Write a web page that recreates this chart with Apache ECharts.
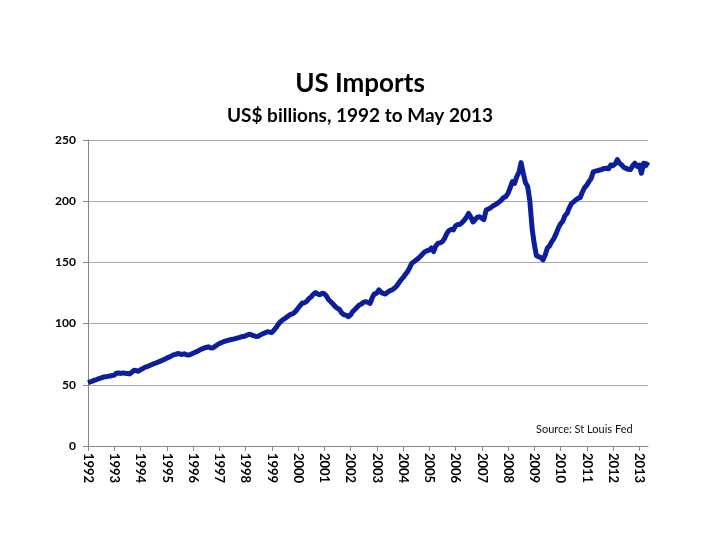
<!DOCTYPE html>
<html>
<head>
<meta charset="utf-8">
<script src="https://cdn.jsdelivr.net/npm/echarts@6/dist/echarts.min.js"></script>
<style>html,body{margin:0;padding:0;background:#fff;}#c{width:720px;height:540px;}</style>
</head>
<body>
<div id="c"></div>
<script>
var years = ['1992','1993','1994','1995','1996','1997','1998','1999','2000','2001','2002','2003','2004','2005','2006','2007','2008','2009','2010','2011','2012','2013'];
var y1992 = [51.8, 52.4, 53.0, 53.8, 54.3, 55.0, 55.6, 56.3, 56.5, 56.9, 57.2, 57.6];
var y1993 = [57.9, 59.5, 59.6, 59.3, 59.7, 59.4, 59.2, 58.9, 60.2, 61.8, 61.6, 61.0];
var y1994 = [62.3, 63.2, 64.3, 64.9, 65.6, 66.4, 67.2, 67.8, 68.5, 69.3, 70.0, 70.8];
var y1995 = [71.8, 72.6, 73.4, 74.4, 74.9, 75.6, 75.2, 74.8, 75.3, 74.6, 74.3, 74.9];
var y1996 = [75.8, 76.6, 77.3, 78.4, 79.2, 79.9, 80.5, 81.0, 80.2, 80.0, 81.3, 82.6];
var y1997 = [83.6, 84.5, 85.2, 85.8, 86.3, 86.8, 87.2, 87.5, 88.1, 88.6, 89.2, 89.4];
var y1998 = [90.0, 90.8, 91.3, 90.6, 89.9, 89.4, 89.8, 90.9, 91.8, 92.6, 93.4, 93.0];
var y1999 = [92.6, 94.5, 96.8, 99.5, 101.5, 103.0, 104.2, 105.5, 106.8, 107.8, 108.4, 110.2];
var y2000 = [112.5, 114.8, 116.8, 117.0, 118.2, 120.5, 121.8, 124.0, 125.3, 124.2, 123.5, 124.8];
var y2001 = [124.4, 122.5, 119.5, 117.8, 116.0, 114.0, 112.5, 111.5, 108.6, 107.2, 106.9, 105.7];
var y2002 = [107.0, 109.8, 111.5, 113.4, 115.2, 116.0, 117.5, 117.9, 117.4, 116.5, 121.5, 124.5];
var y2003 = [124.8, 127.5, 125.5, 124.7, 124.2, 125.8, 126.9, 127.5, 128.8, 130.5, 133.0, 135.5];
var y2004 = [137.5, 140.0, 142.2, 145.5, 149.3, 150.5, 152.0, 153.3, 155.0, 157.0, 158.7, 159.5];
var y2005 = [160.0, 161.8, 158.9, 163.5, 165.6, 166.0, 167.0, 169.5, 173.5, 176.0, 177.0, 176.5];
var y2006 = [179.8, 181.0, 181.0, 182.5, 184.6, 186.8, 190.0, 187.0, 183.0, 185.0, 187.0, 187.3];
var y2007 = [186.0, 185.0, 192.8, 193.5, 194.5, 196.0, 196.9, 198.0, 199.5, 201.0, 203.0, 203.7];
var y2008 = [206.4, 211.0, 216.0, 214.5, 220.0, 223.5, 231.5, 222.8, 215.0, 212.0, 200.0, 178.0];
var y2009 = [165.0, 155.5, 154.7, 154.0, 152.0, 156.0, 161.8, 163.5, 167.0, 169.5, 173.5, 178.0];
var y2010 = [181.5, 183.5, 188.0, 190.0, 194.5, 198.0, 199.5, 201.0, 202.4, 203.0, 207.5, 211.0];
var y2011 = [213.0, 216.0, 218.5, 224.0, 224.5, 225.0, 225.5, 226.0, 226.8, 227.0, 226.5, 229.6];
var y2012 = [229.0, 230.5, 234.0, 231.0, 229.6, 227.5, 226.8, 226.0, 225.8, 229.0, 231.0, 228.5];
var y2013 = [229.5, 222.8, 231.0, 229.0, 232.0];

var yearly = [y1992,y1993,y1994,y1995,y1996,y1997,y1998,y1999,y2000,y2001,y2002,y2003,y2004,y2005,y2006,y2007,y2008,y2009,y2010,y2011,y2012,y2013];
var categories = [];
var values = [];
yearly.forEach(function(arr, i){
  arr.forEach(function(v, m){
    categories.push(years[i] + '-' + (m < 9 ? '0' : '') + (m + 1));
    values.push(v);
  });
});

var chart = echarts.init(document.getElementById('c'));
var isYearStart = function(idx){ return idx % 12 === 0; };
chart.setOption({
  backgroundColor: '#ffffff',
  animation: false,
  title: [
    {text: 'US Imports', left: 'center', top: 66, textStyle: {fontFamily: 'Lato', fontSize: 26, fontWeight: 'bold', color: '#000'}},
    {text: 'US$ billions, 1992 to May 2013', left: 'center', top: 101, textStyle: {fontFamily: 'Lato', fontSize: 19, fontWeight: 'bold', color: '#000'}}
  ],
  grid: {left: 88, right: 72, top: 140, bottom: 94},
  xAxis: {
    type: 'category',
    data: categories,
    boundaryGap: false,
    axisLine: {lineStyle: {color: '#888', width: 1}},
    axisTick: {interval: function(idx){ return isYearStart(idx); }, length: 5, lineStyle: {color: '#888'}},
    axisLabel: {
      interval: function(idx){ return isYearStart(idx); },
      rotate: -90,
      margin: 7,
      formatter: function(v){ return v.slice(0, 4); },
      fontFamily: 'Lato', fontSize: 13, fontWeight: 'bold', color: '#000'
    },
    splitLine: {show: false}
  },
  yAxis: {
    type: 'value',
    min: 0, max: 250, interval: 50,
    axisLine: {show: true, lineStyle: {color: '#888', width: 1}},
    axisTick: {show: true, length: 5, lineStyle: {color: '#888'}},
    axisLabel: {fontFamily: 'Lato', fontSize: 12, fontWeight: 'bold', color: '#000', margin: 12},
    splitLine: {lineStyle: {color: '#a8a8a8', width: 1}}
  },
  series: [{
    type: 'line',
    data: values,
    showSymbol: false,
    symbol: 'none',
    lineStyle: {color: '#0b1e9c', width: 5, join: 'round'},
    itemStyle: {color: '#0b1e9c'}
  }],
  graphic: [{
    type: 'text', left: 536, top: 424,
    style: {text: 'Source: St Louis Fed', fontFamily: 'Lato', fontSize: 11, fill: '#111'}
  }]
});
</script>
</body>
</html>
